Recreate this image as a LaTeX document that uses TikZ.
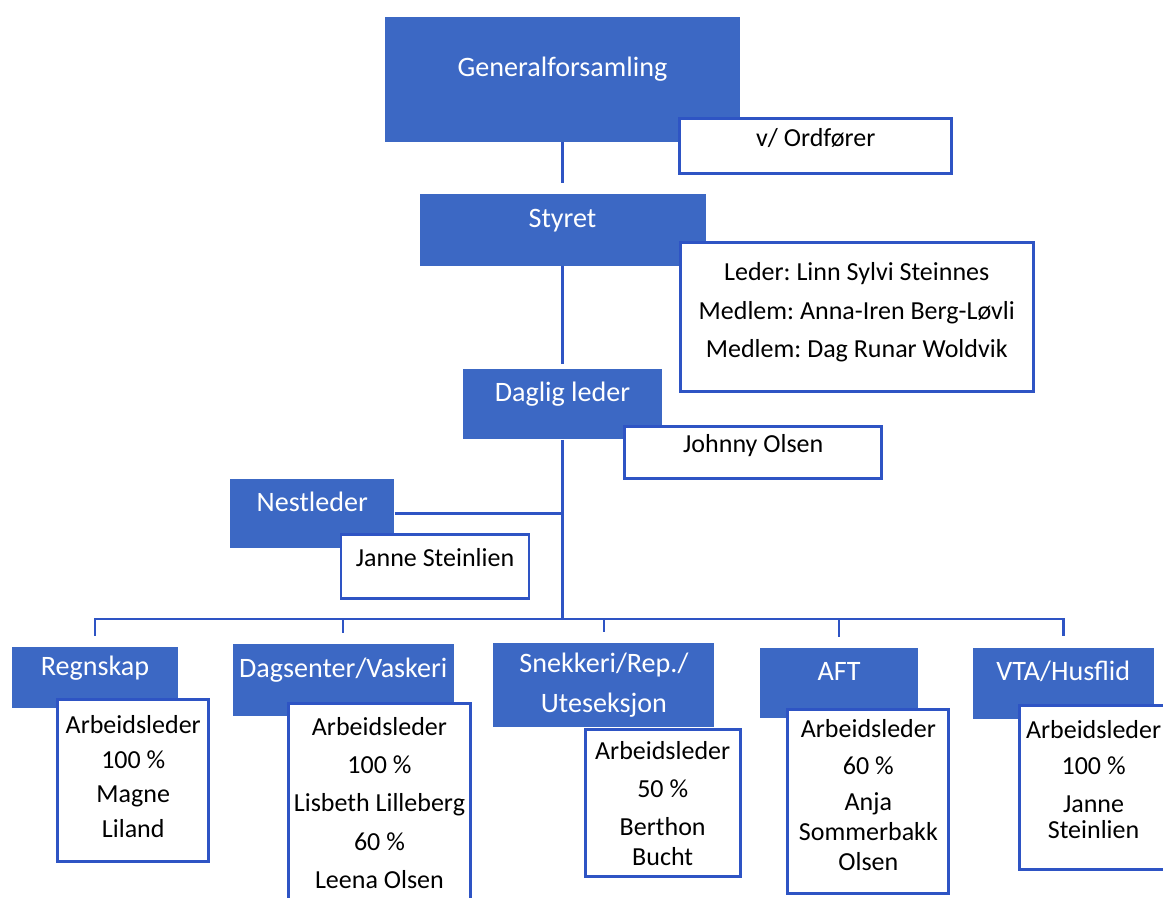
\documentclass[tikz,border=0pt]{standalone}
\usepackage{fontspec}
\setmainfont{Carlito}
\usepackage{tikz}
\usetikzlibrary{positioning}

\definecolor{unitblue}{RGB}{60,104,196}
\definecolor{linkblue}{RGB}{46,84,196}
\newcommand{\unitfont}{\fontsize{16}{19}\selectfont}
\newcommand{\infofont}{\fontsize{14.8}{16.8}\selectfont}
\frenchspacing

\begin{document}
\begin{tikzpicture}[
    unit/.style={fill=unitblue, text=white, font=\unitfont, align=center, inner sep=2pt},
    unitbox/.style={unit, text height=0.4cm, text depth=0.5cm},
    infobox/.style={draw=linkblue, line width=1.6pt, fill=white, align=center, font=\infofont, inner sep=2pt},
    infoline/.style={infobox, text height=0.38cm, text depth=0.38cm},
    link/.style={draw=linkblue, line width=1.4pt},
]
\useasboundingbox (0,0) rectangle (23.26,-17.96);

% ---- General assembly ----
\node[unitbox, minimum width=7.1cm, minimum height=2.5cm] (gf) at (11.25,-1.59) {Generalforsamling};
\node[infoline, minimum width=5.44cm, minimum height=1.1cm, below right=-0.5cm and -1.24cm of gf] (ordf) {v/ Ordfører};

% ---- Board ----
\node[unitbox, minimum width=5.72cm, minimum height=1.44cm, below=1.02cm of gf] (styret) {Styret};
\node[infobox, minimum width=7.06cm, minimum height=2.98cm, below right=-0.5cm and -0.54cm of styret] (board) {Leder: Linn Sylvi Steinnes\\[5pt]Medlem: Anna-Iren Berg-Løvli\\[5pt]Medlem: Dag Runar Woldvik\\[-9pt]};

% ---- Management ----
\node[unitbox, minimum width=3.98cm, minimum height=1.4cm, below=2.06cm of styret] (daglig) {Daglig leder};
\node[infoline, minimum width=5.14cm, minimum height=1.04cm, below right=-0.3cm and -0.78cm of daglig] (johnny) {Johnny Olsen};

\node[unitbox, minimum width=3.28cm, minimum height=1.38cm, below left=0.78cm and 1.36cm of daglig] (nest) {Nestleder};
\node[infoline, minimum width=3.76cm, minimum height=1.28cm, below right=-0.3cm and -1.1cm of nest] (janne) {Janne Steinlien};

\coordinate[below=3.58cm of daglig] (hub);

% ---- Units ----
\node[unitbox, minimum width=3.32cm, minimum height=1.22cm] (regn) at (1.9,-13.55) {Regnskap};
\node[unitbox, minimum width=4.42cm, minimum height=1.44cm, right=1.08cm of regn, yshift=-0.05cm] (dag) {Dagsenter/Vaskeri};
\node[unit, minimum width=4.42cm, minimum height=1.68cm, right=0.78cm of dag, yshift=-0.1cm] (snek) {Snekkeri/Rep./\\[4pt]Uteseksjon};
\node[unitbox, minimum width=3.16cm, minimum height=1.4cm, right=0.9cm of snek, yshift=0.04cm] (aft) {AFT};
\node[unitbox, minimum width=3.62cm, minimum height=1.42cm, right=1.08cm of aft] (vta) {VTA/Husflid};

% ---- Unit staff ----
\node[infobox, minimum width=3.02cm, minimum height=3.24cm, below right=-0.2cm and -2.44cm of regn] (regnstaff) {Arbeidsleder\\[3pt]100 \%\\[3pt]Magne\\[3pt]Liland\\[-12pt]};
\node[infobox, minimum width=3.64cm, minimum height=3.96cm, below right=-0.28cm and -3.34cm of dag] (dagstaff) {Arbeidsleder\\[5pt]100 \%\\[5pt]Lisbeth Lilleberg\\[5pt]60 \%\\[5pt]Leena Olsen};
\node[infobox, minimum width=3.1cm, minimum height=2.94cm, below right=0.02cm and -2.62cm of snek] (snekstaff) {Arbeidsleder\\[5pt]50 \%\\[5pt]Berthon\\Bucht};
\node[infobox, minimum width=3.22cm, minimum height=3.68cm, below right=-0.2cm and -2.64cm of aft] (aftstaff) {Arbeidsleder\\[4pt]60 \%\\[4pt]Anja\\Sommerbakk\\Olsen\\[-9pt]};
\node[infobox, minimum width=2.96cm, minimum height=3.28cm, below right=-0.3cm and -2.72cm of vta] (vtastaff) {Arbeidsleder\\[4pt]100 \%\\[5pt]Janne\\[-2pt]Steinlien\\[-8pt]};

% ---- Lines ----
\draw[link, shorten >=0.2cm] (gf) -- (styret);
\draw[link, shorten >=0.1cm] (styret) -- (daglig);
\draw[link] (daglig) -- (hub);
\draw[link] (nest.east) -- (nest.east -| hub);
\foreach \u in {regn, dag, snek, aft, vta}
    \draw[link, shorten >=0.22cm] (hub) -| (\u.north);

\end{tikzpicture}
\end{document}
